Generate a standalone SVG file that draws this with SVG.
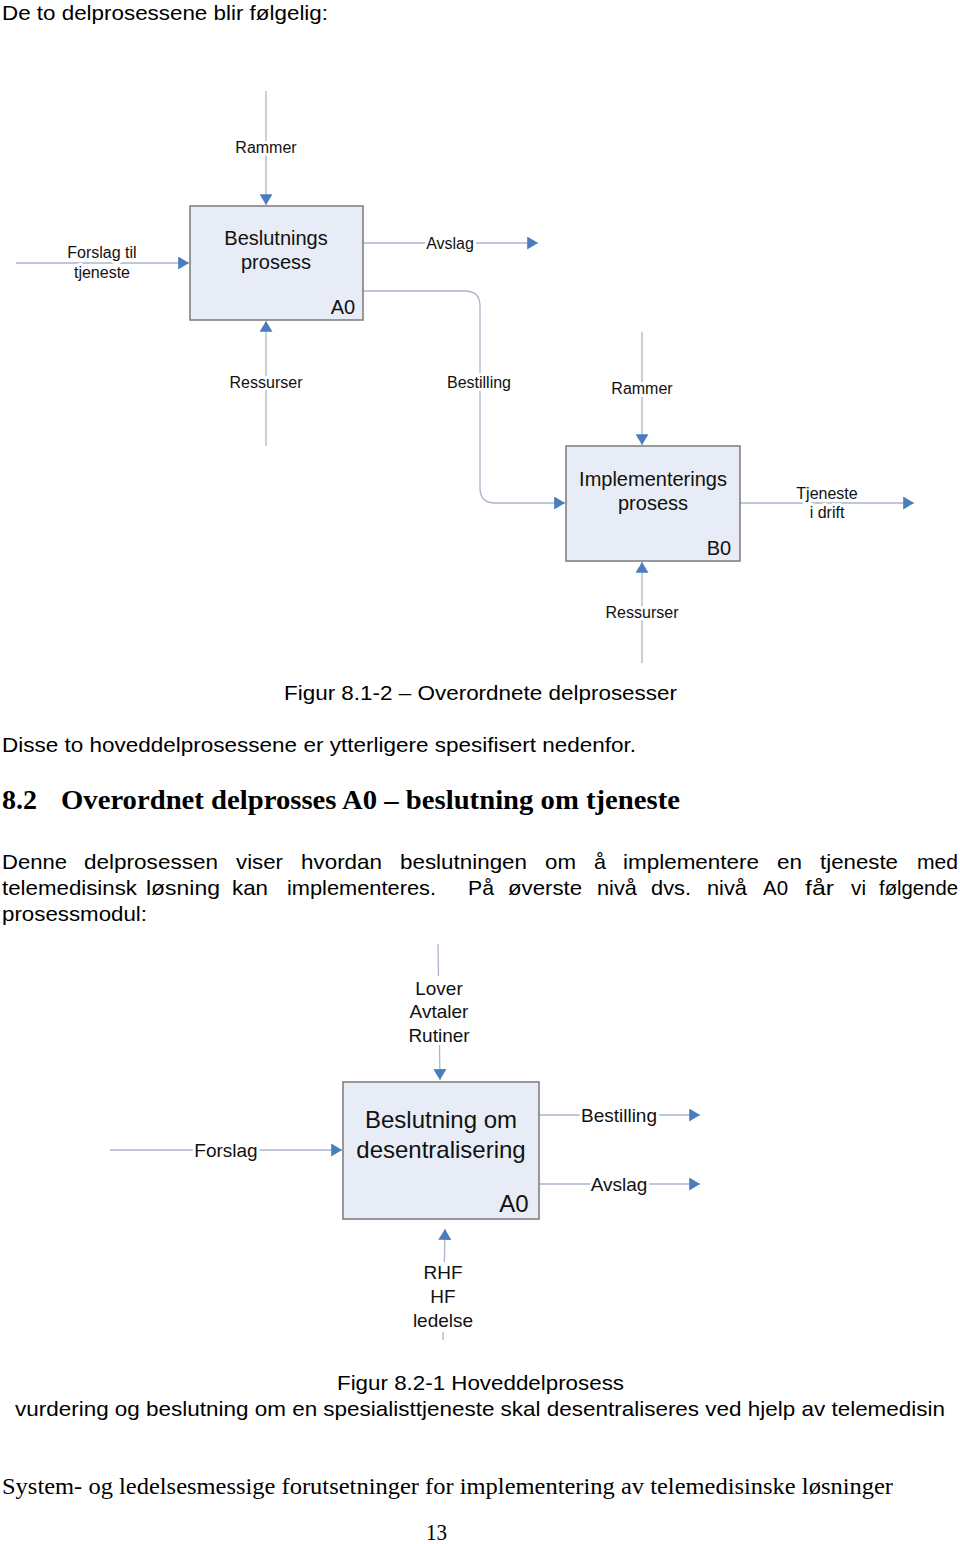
<svg xmlns="http://www.w3.org/2000/svg" width="960" height="1544" viewBox="0 0 960 1544">
<style>
.doc{font-family:"Liberation Sans",Arial,sans-serif;fill:#000;}
.ser{font-family:"Liberation Serif","Times New Roman",serif;fill:#000;}
.box{fill:#e7ecf6;stroke:#7a7a7a;stroke-width:1.5;}
.con{fill:none;stroke:#a9b6c8;stroke-width:1.3;}
.lbl{font-family:"Liberation Sans",Arial,sans-serif;font-size:16px;fill:#111;text-anchor:middle;paint-order:stroke;stroke:#fff;stroke-width:6px;stroke-linejoin:round;}
.lbl2{font-family:"Liberation Sans",Arial,sans-serif;font-size:19px;fill:#111;text-anchor:middle;paint-order:stroke;stroke:#fff;stroke-width:6px;stroke-linejoin:round;}
.bt{font-family:"Liberation Sans",Arial,sans-serif;font-size:20px;fill:#111;text-anchor:middle;}
.bt2{font-family:"Liberation Sans",Arial,sans-serif;font-size:24px;fill:#111;text-anchor:middle;}
</style>
<defs>
<marker id="ah" viewBox="0 0 10 12" refX="10" refY="6" markerWidth="11" markerHeight="13" markerUnits="userSpaceOnUse" orient="auto">
<path d="M0,0 L10,6 L0,12 Z" fill="#4a7dbd"/>
</marker>
</defs>

<text class="doc" x="2" y="20" font-size="21" textLength="326" lengthAdjust="spacingAndGlyphs">De to delprosessene blir følgelig:</text>

<g id="connectors1">
<path class="con" d="M266,91 L266,205" marker-end="url(#ah)"/>
<path class="con" d="M16,263 L189,263" marker-end="url(#ah)"/>
<path class="con" d="M363,243 L538,243" marker-end="url(#ah)"/>
<path class="con" d="M266,446 L266,321" marker-end="url(#ah)"/>
<path class="con" d="M363,291 L465,291 Q480,291 480,306 L480,488 Q480,503 495,503 L565,503" marker-end="url(#ah)"/>
<path class="con" d="M642,332 L642,445" marker-end="url(#ah)"/>
<path class="con" d="M642,663 L642,562" marker-end="url(#ah)"/>
<path class="con" d="M740,503 L914,503" marker-end="url(#ah)"/>
<text class="lbl" x="266" y="153">Rammer</text>
<text class="lbl" x="102" y="258">Forslag til</text>
<text class="lbl" x="102" y="278">tjeneste</text>
<text class="lbl" x="450" y="249">Avslag</text>
<text class="lbl" x="266" y="388">Ressurser</text>
<text class="lbl" x="479" y="388">Bestilling</text>
<text class="lbl" x="642" y="394">Rammer</text>
<text class="lbl" x="642" y="618">Ressurser</text>
<text class="lbl" x="827" y="499">Tjeneste</text>
<text class="lbl" x="827" y="518">i drift</text>
</g>

<g id="nodeA0">
<rect class="box" x="190" y="206" width="173" height="114"/>
<text class="bt" x="276" y="245">Beslutnings</text>
<text class="bt" x="276" y="269">prosess</text>
<text class="bt" x="343" y="314">A0</text>
</g>

<g id="nodeB0">
<rect class="box" x="566" y="446" width="174" height="115"/>
<text class="bt" x="653" y="486">Implementerings</text>
<text class="bt" x="653" y="510">prosess</text>
<text class="bt" x="719" y="555">B0</text>
</g>

<text class="doc" x="284" y="700" font-size="21" textLength="393" lengthAdjust="spacingAndGlyphs">Figur 8.1-2 – Overordnete delprosesser</text>
<text class="doc" x="2" y="752" font-size="21" textLength="634" lengthAdjust="spacingAndGlyphs">Disse to hoveddelprosessene er ytterligere spesifisert nedenfor.</text>
<text class="ser" y="809" font-size="28" font-weight="bold"><tspan x="2" textLength="35" lengthAdjust="spacingAndGlyphs">8.2</tspan><tspan x="61" textLength="619" lengthAdjust="spacingAndGlyphs">Overordnet delprosses A0 – beslutning om tjeneste</tspan></text>
<text class="doc" y="869" font-size="21"><tspan x="2" textLength="65" lengthAdjust="spacingAndGlyphs">Denne</tspan><tspan x="84" textLength="134" lengthAdjust="spacingAndGlyphs">delprosessen</tspan><tspan x="236" textLength="47" lengthAdjust="spacingAndGlyphs">viser</tspan><tspan x="301" textLength="81" lengthAdjust="spacingAndGlyphs">hvordan</tspan><tspan x="400" textLength="127" lengthAdjust="spacingAndGlyphs">beslutningen</tspan><tspan x="545" textLength="31" lengthAdjust="spacingAndGlyphs">om</tspan><tspan x="594" textLength="12" lengthAdjust="spacingAndGlyphs">å</tspan><tspan x="623" textLength="136" lengthAdjust="spacingAndGlyphs">implementere</tspan><tspan x="777" textLength="25" lengthAdjust="spacingAndGlyphs">en</tspan><tspan x="820" textLength="78" lengthAdjust="spacingAndGlyphs">tjeneste</tspan><tspan x="917" textLength="41" lengthAdjust="spacingAndGlyphs">med</tspan></text>
<text class="doc" y="895" font-size="21"><tspan x="2" textLength="135" lengthAdjust="spacingAndGlyphs">telemedisinsk</tspan><tspan x="146" textLength="74" lengthAdjust="spacingAndGlyphs">løsning</tspan><tspan x="232" textLength="36" lengthAdjust="spacingAndGlyphs">kan</tspan><tspan x="287" textLength="149" lengthAdjust="spacingAndGlyphs">implementeres.</tspan><tspan x="468" textLength="26" lengthAdjust="spacingAndGlyphs">På</tspan><tspan x="508" textLength="74" lengthAdjust="spacingAndGlyphs">øverste</tspan><tspan x="597" textLength="40" lengthAdjust="spacingAndGlyphs">nivå</tspan><tspan x="651" textLength="40" lengthAdjust="spacingAndGlyphs">dvs.</tspan><tspan x="707" textLength="40" lengthAdjust="spacingAndGlyphs">nivå</tspan><tspan x="763" textLength="25" lengthAdjust="spacingAndGlyphs">A0</tspan><tspan x="805" textLength="29" lengthAdjust="spacingAndGlyphs">får</tspan><tspan x="851" textLength="15" lengthAdjust="spacingAndGlyphs">vi</tspan><tspan x="879" textLength="79" lengthAdjust="spacingAndGlyphs">følgende</tspan></text>
<text class="doc" x="2" y="921" font-size="21" textLength="145" lengthAdjust="spacingAndGlyphs">prosessmodul:</text>

<g id="connectors2">
<path class="con" d="M438,944 L440,1080" marker-end="url(#ah)"/>
<path class="con" d="M110,1150 L342,1150" marker-end="url(#ah)"/>
<path class="con" d="M539,1115 L700,1115" marker-end="url(#ah)"/>
<path class="con" d="M539,1184 L700,1184" marker-end="url(#ah)"/>
<path class="con" d="M443,1340 L445,1229" marker-end="url(#ah)"/>
<rect x="400" y="976" width="80" height="68" fill="#fff"/>
<rect x="405" y="1262" width="76" height="70" fill="#fff"/>
<text class="lbl2" x="439" y="995">Lover</text>
<text class="lbl2" x="439" y="1018">Avtaler</text>
<text class="lbl2" x="439" y="1042">Rutiner</text>
<text class="lbl2" x="226" y="1157">Forslag</text>
<text class="lbl2" x="619" y="1122">Bestilling</text>
<text class="lbl2" x="619" y="1191">Avslag</text>
<text class="lbl2" x="443" y="1279">RHF</text>
<text class="lbl2" x="443" y="1303">HF</text>
<text class="lbl2" x="443" y="1327">ledelse</text>
</g>

<g id="nodeA0b">
<rect class="box" x="343" y="1082" width="196" height="137"/>
<text class="bt2" x="441" y="1128">Beslutning om</text>
<text class="bt2" x="441" y="1158">desentralisering</text>
<text class="bt2" x="514" y="1212">A0</text>
</g>

<text class="doc" x="337" y="1390" font-size="21" textLength="287" lengthAdjust="spacingAndGlyphs">Figur 8.2-1 Hoveddelprosess</text>
<text class="doc" x="15" y="1416" font-size="21" textLength="930" lengthAdjust="spacingAndGlyphs">vurdering og beslutning om en spesialisttjeneste skal desentraliseres ved hjelp av telemedisin</text>
<text class="ser" x="2" y="1494" font-size="23" textLength="891" lengthAdjust="spacingAndGlyphs">System- og ledelsesmessige forutsetninger for implementering av telemedisinske løsninger</text>
<text class="ser" x="426" y="1540" font-size="23" textLength="21" lengthAdjust="spacingAndGlyphs">13</text>
</svg>
